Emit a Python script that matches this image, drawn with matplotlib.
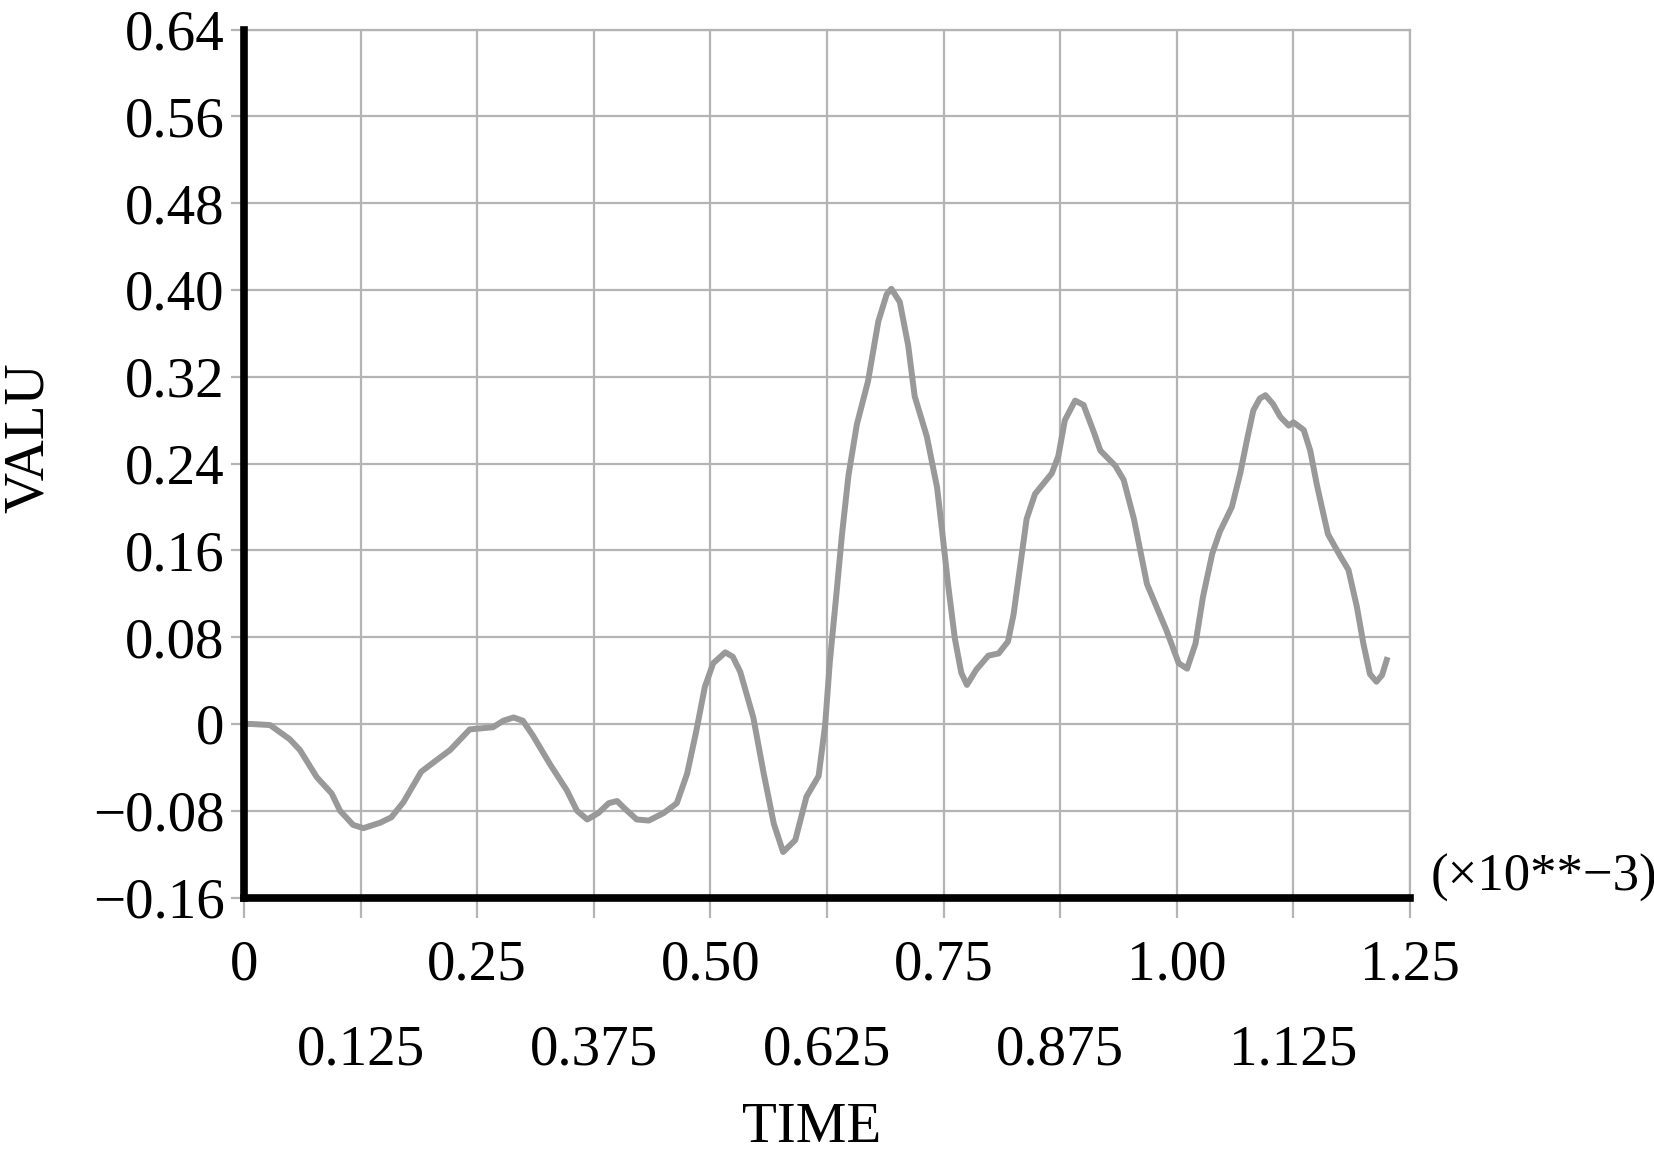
import matplotlib.pyplot as plt
from matplotlib.ticker import FixedLocator

# values (time in units of 1e-3)
time = [0.000, 0.008, 0.028, 0.049, 0.060, 0.078, 0.094, 0.103, 0.117, 0.128,
        0.146, 0.158, 0.171, 0.190, 0.210, 0.221, 0.242, 0.267, 0.278, 0.289,
        0.299, 0.310, 0.328, 0.346, 0.357, 0.368, 0.380, 0.391, 0.400, 0.407,
        0.421, 0.434, 0.450, 0.464, 0.475, 0.485, 0.494, 0.503, 0.516, 0.524,
        0.532, 0.546, 0.557, 0.568, 0.578, 0.591, 0.603, 0.616, 0.623, 0.628,
        0.635, 0.641, 0.648, 0.657, 0.669, 0.680, 0.689, 0.694, 0.703, 0.712,
        0.719, 0.732, 0.743, 0.748, 0.755, 0.762, 0.769, 0.775, 0.785, 0.798,
        0.809, 0.819, 0.825, 0.832, 0.839, 0.848, 0.866, 0.873, 0.880, 0.891,
        0.900, 0.911, 0.918, 0.934, 0.943, 0.954, 0.968, 0.989, 1.002, 1.011,
        1.020, 1.028, 1.038, 1.046, 1.059, 1.068, 1.075, 1.082, 1.089, 1.095,
        1.103, 1.111, 1.120, 1.125, 1.136, 1.143, 1.150, 1.157, 1.162, 1.175,
        1.184, 1.193, 1.200, 1.207, 1.214, 1.220, 1.225]
valu = [0.000, 0.000, -0.001, -0.014, -0.024, -0.049, -0.064, -0.080, -0.093, -0.096,
        -0.091, -0.086, -0.072, -0.044, -0.031, -0.024, -0.005, -0.003, 0.003, 0.006,
        0.003, -0.011, -0.037, -0.061, -0.080, -0.088, -0.082, -0.073, -0.071, -0.077,
        -0.088, -0.089, -0.082, -0.073, -0.046, -0.006, 0.034, 0.056, 0.066, 0.062,
        0.048, 0.006, -0.045, -0.092, -0.118, -0.107, -0.067, -0.048, -0.001, 0.057,
        0.119, 0.174, 0.229, 0.276, 0.316, 0.371, 0.396, 0.401, 0.389, 0.349,
        0.302, 0.265, 0.218, 0.181, 0.127, 0.079, 0.047, 0.036, 0.050, 0.063,
        0.065, 0.076, 0.101, 0.145, 0.189, 0.212, 0.231, 0.247, 0.280, 0.298,
        0.294, 0.269, 0.252, 0.238, 0.225, 0.189, 0.129, 0.086, 0.056, 0.051,
        0.074, 0.117, 0.157, 0.177, 0.200, 0.231, 0.261, 0.289, 0.300, 0.303,
        0.295, 0.283, 0.275, 0.278, 0.271, 0.252, 0.221, 0.194, 0.175, 0.155,
        0.142, 0.108, 0.074, 0.046, 0.039, 0.045, 0.059]

y_ticks = [-0.16, -0.08, 0, 0.08, 0.16, 0.24, 0.32, 0.40, 0.48, 0.56, 0.64]
y_labels = ["\u22120.16", "\u22120.08", "0", "0.08", "0.16", "0.24", "0.32",
            "0.40", "0.48", "0.56", "0.64"]
x_major = [0, 0.25, 0.50, 0.75, 1.00, 1.25]
x_major_labels = ["0", "0.25", "0.50", "0.75", "1.00", "1.25"]
x_minor = [0.125, 0.375, 0.625, 0.875, 1.125]
x_minor_labels = ["0.125", "0.375", "0.625", "0.875", "1.125"]

grid_col = "#b4b4b4"
plt.rcParams['font.family'] = ['Liberation Serif', 'DejaVu Serif']

fig = plt.figure(figsize=(16.54, 11.57), dpi=100)
ax = fig.add_axes([0.1475, 0.2242, 0.705, 0.7503])

ax.plot(time, valu, color="#999999", lw=4.3, zorder=3)

ax.set_xlim(0, 1.25)
ax.set_ylim(-0.16, 0.64)

ax.set_yticks(y_ticks)
ax.set_yticklabels(y_labels)
ax.xaxis.set_major_locator(FixedLocator(x_major))
ax.set_xticklabels(x_major_labels)
ax.xaxis.set_minor_locator(FixedLocator(x_minor))
ax.set_xticklabels(x_minor_labels, minor=True)

ax.set_axisbelow(True)
ax.grid(which="major", axis="y", color=grid_col, lw=1.6)
ax.grid(which="both", axis="x", color=grid_col, lw=1.6)

ax.tick_params(axis="y", direction="out", length=9.4, width=1.6, color=grid_col,
               pad=4.5, labelsize=41)
ax.tick_params(axis="x", which="major", direction="out", length=14.4, width=1.6,
               color=grid_col, pad=16, labelsize=41)
ax.tick_params(axis="x", which="minor", direction="out", length=14.4, width=1.6,
               color=grid_col, pad=77, labelsize=41)

for s in ["left", "bottom"]:
    ax.spines[s].set_linewidth(5.5)
    ax.spines[s].set_color("black")
    ax.spines[s].set_zorder(5)
for s in ["top", "right"]:
    ax.spines[s].set_linewidth(1.6)
    ax.spines[s].set_color(grid_col)

ax.set_xlabel("TIME", fontsize=41)
ax.xaxis.set_label_coords(0.487, -0.236)
fig.text(43 / 1654, 1 - 437.5 / 1157, "VALU", fontsize=41, rotation=90,
         rotation_mode="anchor", ha="center", va="baseline")

ax.text(1.0175, 0.008, "(\u00d710**\u22123)", transform=ax.transAxes,
        fontsize=38, ha="left", va="baseline")

plt.savefig("out.png", dpi=100)
